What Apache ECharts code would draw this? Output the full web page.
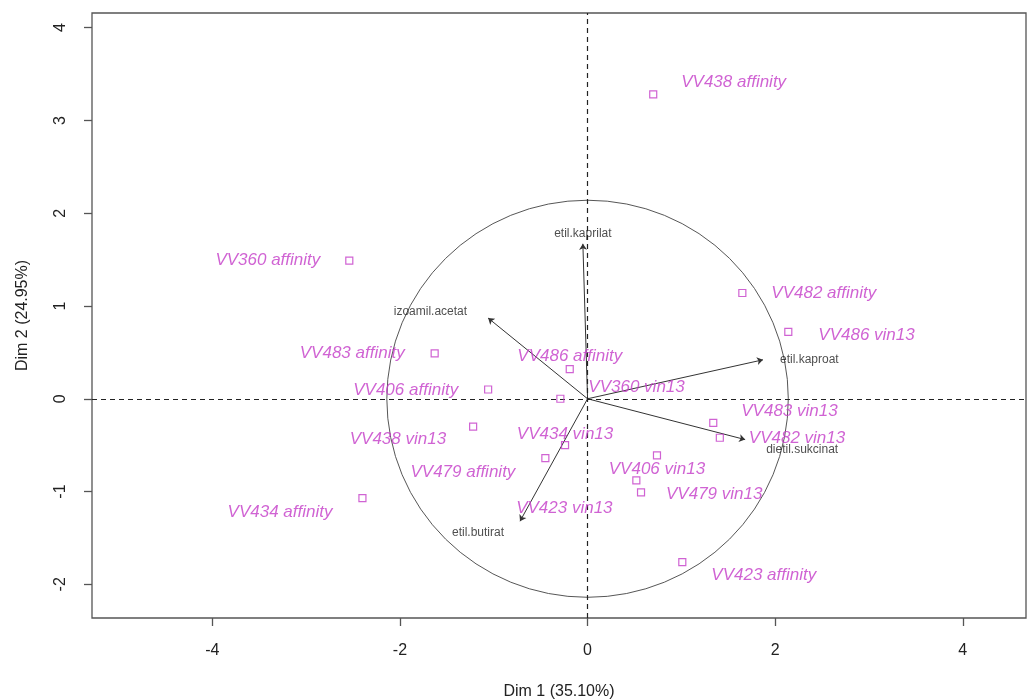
<!DOCTYPE html>
<html><head><meta charset="utf-8">
<script src="https://cdn.jsdelivr.net/npm/echarts@6/dist/echarts.min.js"></script>
<style>html,body{margin:0;padding:0;background:#fff}#c{width:1027px;height:699px}</style>
</head><body><div id="c"></div>
<script>
// ---- data ----
const indNames = ['VV438 affinity','VV360 affinity','VV482 affinity','VV486 vin13','VV483 affinity','VV486 affinity',
  'VV406 affinity','VV360 vin13','VV438 vin13','VV434 vin13','VV479 affinity','VV434 affinity',
  'VV483 vin13','VV482 vin13','VV406 vin13','VV423 vin13','VV479 vin13','VV423 affinity'];
const indDim1 = [0.70,-2.54,1.65,2.14,-1.63,-0.19,-1.06,-0.29,-1.22,-0.24,-0.45,-2.40,1.34,1.41,0.74,0.52,0.57,1.01];
const indDim2 = [3.28,1.49,1.14,0.72,0.49,0.32,0.10,0.00,-0.30,-0.50,-0.64,-1.07,-0.26,-0.42,-0.61,-0.88,-1.01,-1.76];
const varNames = ['etil.kaprilat','izoamil.acetat','etil.kaproat','dietil.sukcinat','etil.butirat'];
const varDim1 = [-0.05,-1.06,1.87,1.68,-0.72];
const varDim2 = [1.67,0.87,0.42,-0.44,-1.32];
const circleRadius = 2.14;
const xTicks = [-4,-2,0,2,4];
const yTicks = [-2,-1,0,1,2,3,4];
const xTitle = 'Dim 1 (35.10%)';
const yTitle = 'Dim 2 (24.95%)';

// ---- label placement (style only: align, dx, dy in px) ----
const indLabelPlace = {
  'VV438 affinity':['left',28,-12], 'VV360 affinity':['right',-29,0], 'VV482 affinity':['left',29,0],
  'VV486 vin13':['left',30,3], 'VV483 affinity':['right',-30,0], 'VV486 affinity':['center',0,-13],
  'VV406 affinity':['right',-30,1], 'VV360 vin13':['left',28,-12], 'VV438 vin13':['right',-27,13],
  'VV434 vin13':['center',0,-11], 'VV479 affinity':['right',-30,14], 'VV434 affinity':['right',-30,14],
  'VV483 vin13':['left',28,-12], 'VV482 vin13':['left',29,1], 'VV406 vin13':['center',0,14],
  'VV423 vin13':['center',-72,28], 'VV479 vin13':['left',25,2], 'VV423 affinity':['left',29,13]
};
const varLabelPlace = {
  'etil.kaprilat':['center',0,-10], 'izoamil.acetat':['right',-21,-6], 'etil.kaproat':['left',17,0],
  'dietil.sukcinat':['left',21,10], 'etil.butirat':['center',-42,11]
};

const FONT = '"Liberation Sans", Arial, sans-serif';
const MAG = '#c43cc8';

const chart = echarts.init(document.getElementById('c'), null, {renderer:'canvas'});

const indData = indNames.map((n,i)=>{
  const p = indLabelPlace[n];
  return {name:n, value:[indDim1[i], indDim2[i]],
    label:{show:true, position:'inside', align:p[0], verticalAlign:'middle', offset:[p[1],p[2]]}};
});
const varTipData = varNames.map((n,i)=>{
  const p = varLabelPlace[n];
  return {name:n, value:[varDim1[i], varDim2[i]],
    label:{show:true, position:'inside', align:p[0], verticalAlign:'middle', offset:[p[1],p[2]]}};
});
const arrowData = varNames.map((n,i)=>({coords:[[0,0],[varDim1[i], varDim2[i]]]}));

chart.setOption({
  animation:false,
  backgroundColor:'#fff',
  grid:{left:92, top:13, right:1, bottom:81, show:true, borderColor:'#555', borderWidth:1.3, backgroundColor:'transparent', containLabel:false, outerBoundsMode:'none'},
  xAxis:{type:'value', min:-5.283, max:4.674,
    axisLine:{show:false, onZero:false}, splitLine:{show:false},
    axisTick:{show:true, inside:false, length:8, customValues:xTicks, lineStyle:{color:'#555', width:1.3}},
    axisLabel:{show:true, customValues:xTicks, margin:25, fontSize:16, color:'#222', fontFamily:FONT},
    name:xTitle, nameLocation:'middle', nameGap:66, nameTextStyle:{fontSize:16, color:'#222', fontFamily:FONT}},
  yAxis:{type:'value', min:-2.363, max:4.158,
    axisLine:{show:false, onZero:false}, splitLine:{show:false},
    axisTick:{show:true, inside:false, length:8, customValues:yTicks, lineStyle:{color:'#555', width:1.3}},
    axisLabel:{show:true, customValues:yTicks, rotate:90, margin:23, fontSize:16, color:'#222', fontFamily:FONT},
    name:yTitle, nameLocation:'middle', nameGap:61, nameRotate:90, nameTextStyle:{fontSize:16, color:'#222', fontFamily:FONT}},
  series:[
    { type:'custom', silent:true, z:1, data:[[0,0,circleRadius]],
      renderItem:function(params, api){
        const c = api.coord([api.value(0), api.value(1)]);
        const r = api.value(2);
        const rx = api.size([r,0])[0];
        const ry = api.size([0,r])[1];
        return {type:'circle', x:c[0], y:c[1], scaleX:1, scaleY:ry/rx,
          shape:{cx:0, cy:0, r:rx},
          style:{fill:null, stroke:'#555', lineWidth:1, strokeNoScale:true}};
      },
      markLine:{silent:true, symbol:['none','none'], label:{show:false},
        lineStyle:{type:[5,4], color:'#222', width:1.2},
        data:[{xAxis:0},{yAxis:0}]}
    },
    { type:'lines', coordinateSystem:'cartesian2d', silent:true, z:3,
      symbol:['none','arrow'], symbolSize:6,
      lineStyle:{color:'#333', width:1, opacity:1, curveness:0},
      data:arrowData },
    { type:'scatter', silent:true, z:4, symbol:'circle', symbolSize:1,
      itemStyle:{color:'rgba(0,0,0,0)'},
      label:{fontSize:12, color:'#222', fontFamily:FONT, formatter:'{b}'},
      data:varTipData },
    { type:'scatter', silent:true, z:5, symbol:'rect', symbolSize:7,
      itemStyle:{color:'rgba(255,255,255,0)', borderColor:MAG, borderWidth:1.2},
      label:{fontSize:17, fontStyle:'italic', color:MAG, fontFamily:FONT, formatter:'{b}'},
      data:indData }
  ]
});
</script></body></html>
